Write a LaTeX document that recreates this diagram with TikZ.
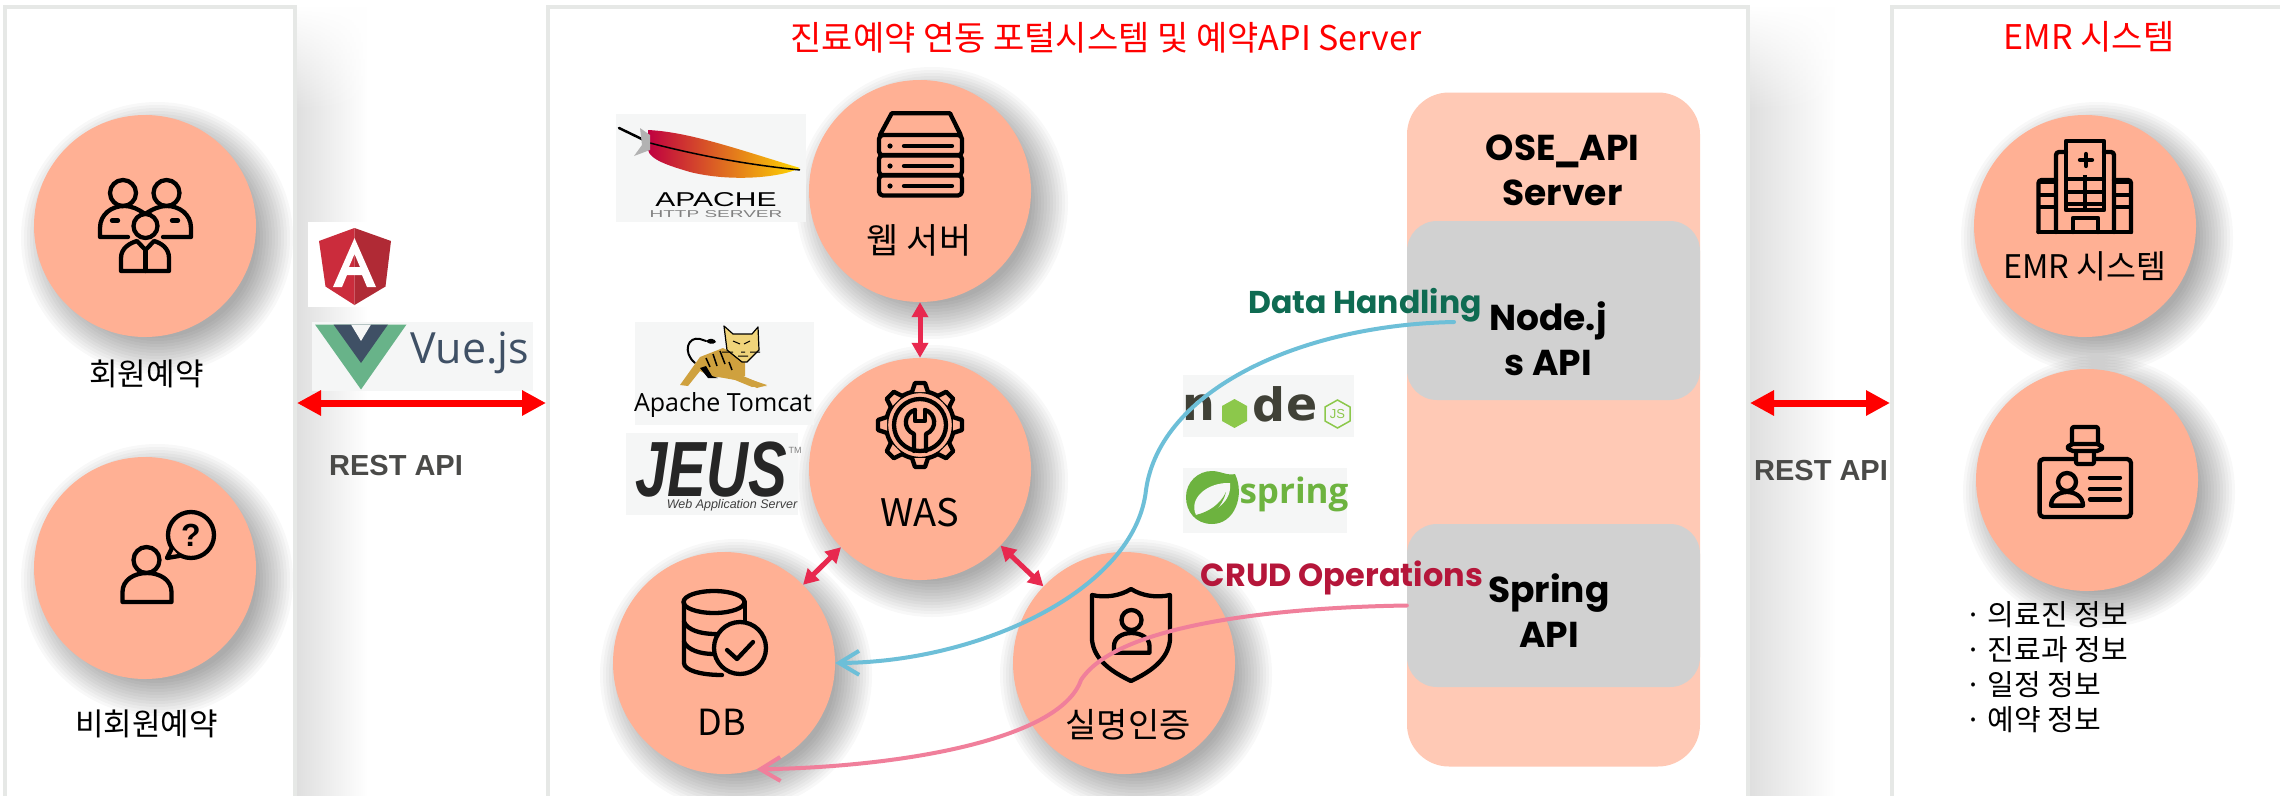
\documentclass[tikz,border=0pt]{standalone}
\usepackage{fontspec}
\usepackage{graphicx}
\usetikzlibrary{arrows.meta,fadings}
\setmainfont{Noto Sans CJK KR}
\newfontfamily\popfont{Poppins}
\newfontfamily\arialfont{Liberation Sans}
\newfontfamily\dejafont{DejaVu Sans}
\newfontfamily\openfont{Open Sans}
\newcommand{\fsz}[2]{\fontsize{#1}{#2}\selectfont}
\definecolor{bubc}{HTML}{FFB094}
\definecolor{osec}{HTML}{FFC9B5}
\definecolor{apic}{HTML}{D1D1D1}
\definecolor{edgec}{HTML}{E6E8E6}
\definecolor{shadc}{HTML}{DFDFDF}
\definecolor{logoc}{HTML}{F5F6F6}
\definecolor{linkc}{HTML}{E8294F}
\definecolor{bluec}{HTML}{6DBFD8}
\definecolor{pinkc}{HTML}{F07F9B}
\definecolor{datac}{HTML}{0F6B52}
\definecolor{crudc}{HTML}{B5163A}
\definecolor{restc}{HTML}{4A4A48}
\definecolor{vuegr}{HTML}{68B389}
\definecolor{vuedk}{HTML}{3F5065}
\definecolor{nodec}{HTML}{404137}
\definecolor{nodeg}{HTML}{8CC84B}
\definecolor{sprg}{HTML}{6DB33F}
\definecolor{angl}{HTML}{CB2C3C}
\definecolor{angr}{HTML}{B02A35}
\definecolor{catb}{HTML}{CFA13E}
\definecolor{cath}{HTML}{F0D47A}
\definecolor{featm}{HTML}{C8245C}
\tikzset{
 panelbox/.style={rectangle, draw=edgec, fill=white, line width=4, inner sep=0, minimum height=792},
 bub/.style={circle, fill=bubc, inner sep=0, minimum size=222},
 lab/.style={font=\fsz{31}{37}, inner sep=0},
 title/.style={font=\fsz{34}{40}, text=red, inner sep=0},
 rest/.style={{Triangle[length=24pt,width=24pt]}-{Triangle[length=24pt,width=24pt]}, draw=red, line width=7},
 restlab/.style={font=\arialfont\bfseries\fsz{29}{34}, text=restc, inner sep=0},
 dbl/.style={{Triangle[length=15pt,width=16pt]}-{Triangle[length=15pt,width=16pt]}, draw=linkc, line width=5},
 curv/.style={-{Straight Barb[length=20pt,width=24pt]}, line width=4, line cap=round},
 apibox/.style={rectangle, fill=apic, rounded corners=30, inner sep=0, minimum width=293},
 apilab/.style={font=\popfont\bfseries\fsz{36}{45}, align=center, inner sep=0},
 ic/.style={draw=black, line width=4.3, line join=round, line cap=round},
 logobg/.style={fill=logoc},
 nodetx/.style={font=\dejafont\bfseries\fsz{46}{48}, text=nodec, inner sep=0}
}
\begin{document}
\begin{tikzpicture}[x=1pt,y=-1pt]
 \useasboundingbox (0,0) rectangle (2280,795);
 \node[panelbox, minimum width=290] (lpanel) at (150,403) {};
 \node[panelbox, minimum width=1200] (mpanel) at (1148,403) {};
 \node[panelbox, minimum width=398] (rpanel) at (2091,403) {};

 \shade[left color=shadc, right color=white] (297,7) rectangle (368,795);
 \shade[left color=shadc, right color=white] (1750,7) rectangle (1836,795);
 \fill[white, path fading=south] (297,7) rectangle (400,110);
 \fill[white, path fading=south] (1750,7) rectangle (1860,110);

 \foreach \cx/\cy in {145/226,145/568,920/191,920/469,724/663,1124/663,2085/226,2087/480}
  \foreach \hr in {100,103,...,136}
   \fill[black, opacity=.027] (\cx+12,\cy+12) circle (\hr);

 \node[bub] (memb) at (145,226) {};
 \node[bub] (guest) at (145,568) {};
 \node[bub] (web) at (920,191) {};
 \node[bub] (was) at (920,469) {};
 \node[bub] (db) at (724,663) {};
 \node[bub] (auth) at (1124,663) {};
 \node[bub] (emr) at (2085,226) {};
 \node[bub] (doc) at (2087,480) {};

 \fill[white] (308,222) rectangle (382,307);
 \fill[angl] (354.5,228) -- (319,241) -- (325.5,286.5) -- (354.5,305) -- cycle;
 \fill[angr] (354.5,228) -- (391,241) -- (385.5,286.5) -- (354.5,305) -- cycle;
 \fill[white, even odd rule] (354.5,238) -- (333,287) -- (342,287) -- (347,275) -- (362,275) -- (367,287) -- (376,287) -- cycle (354.5,254) -- (349,267) -- (360,267) -- cycle;

 \fill[logobg] (312,322) rectangle (533,390.5);
 \fill[vuegr] (315,324.5) -- (406.5,324.5) -- (361,389.5) -- cycle;
 \fill[vuedk] (333.5,324.5) -- (388,324.5) -- (361,363) -- cycle;
 \fill[logoc] (351,324.5) -- (371,324.5) -- (361,341) -- cycle;
 \node[font=\openfont\fsz{43}{50}, text=vuedk, inner sep=0] (vuelab) at (470,353) {Vue.js};

 \fill[logobg] (616,114) rectangle (806,222);
 \draw[line width=2.5, line cap=round] (619,128) -- (650,143);
 \shade[left color=purple, middle color=featm, right color=yellow!70!orange] (648,130) .. controls (690,132) and (740,150) .. (800,168) .. controls (780,178) and (730,182) .. (690,172) .. controls (670,166) and (650,160) .. (648,150) -- cycle;
 \draw[line width=1.5] (650,143) .. controls (700,156) and (750,165) .. (800,170);
 \fill[gray!60] (640,128) -- (650,135) -- (650,150) -- (634,156) -- (642,145) -- cycle;
 \node[font=\arialfont\fsz{20}{24}, inner sep=0] (apache) at (716,200) {\scalebox{1.5}[1]{APACHE}};
 \node[font=\arialfont\fsz{10}{12}, text=gray, inner sep=0] (httpd) at (716,214) {\scalebox{1.9}[1]{HTTP SERVER}};

 \fill[logobg] (635,322) rectangle (814,425);
 \draw[line width=2, line cap=round] (695,363) .. controls (682,352) and (688,336) .. (700,339) -- (706,341);
 \fill (706,341) .. controls (710,337) and (715,339) .. (716,342) .. controls (713,345) and (708,344) .. (706,341) -- cycle;
 \fill[catb] (723,348) -- (700,357) -- (680,385) -- (688,386) -- (700,371) -- (713,377) -- (743,377) -- (767,385) -- (757,388) -- (735,379) -- (745,376) -- (745,360) -- cycle;
 \fill[catb] (713,376) -- (743,376) -- (767,386) -- (752,387) -- (735,380) -- cycle;
 \fill (700,368) -- (706,366) -- (712,376) -- (718,378) -- (708,378) -- cycle;
 \draw[line width=1.5] (706,358) -- (710,367) (713,354) -- (717,366) (720,351) -- (725,364) (729,362) -- (732,370);
 \fill[cath, draw=black, line width=1.2, line join=round] (724,326) -- (733,334) -- (752,334) -- (758,327) -- (759,350) -- (747,362) -- (742,362) -- (727,350) -- cycle;
 \draw[line width=1] (733,341) -- (740,344) (750,341) -- (744,344) (741,352) -- (745,352) (738,356) -- (748,356) (722,352) -- (733,352) (750,352) -- (760,352);
 \node[font=\openfont\fsz{25}{30}, inner sep=0] (tomcat) at (723,405) {Apache Tomcat};

 \fill[logobg] (626,433) rectangle (798,515);
 \node[font=\arialfont\bfseries\itshape\fsz{58}{60}, text=black!85, inner sep=0] (jeus) at (711,470) {\scalebox{1}[1.35]{JEUS}};
 \node[font=\arialfont\fsz{9}{10}, text=gray, inner sep=0] (tm) at (795,450) {TM};
 \node[font=\arialfont\itshape\fsz{12.5}{14}, text=black!75, inner sep=0] (jeussub) at (732,505) {Web Application Server};

 \fill[logobg] (1183,375) rectangle (1354,437);
 \node[nodetx] (noden) at (1199,408) {n};
 \fill[nodeg] (1234.5,399) -- (1247,406) -- (1247,421) -- (1234.5,428) -- (1222,421) -- (1222,406) -- cycle;
 \node[nodetx] (noded) at (1268.5,404) {d};
 \node[nodetx] (nodee) at (1302,408) {e};
 \draw[nodeg, line width=1.5] (1337.5,400) -- (1350,407) -- (1350,421) -- (1337.5,428) -- (1325,421) -- (1325,407) -- cycle;
 \node[font=\arialfont\fsz{13}{14}, text=nodeg, inner sep=0] (nodejs) at (1337.5,414) {JS};

 \fill[logobg] (1183,467.5) rectangle (1347,533);
 \fill[sprg] (1235,474) .. controls (1245,495) and (1235,524) .. (1212,524) .. controls (1196,524) and (1186,512) .. (1186,497) .. controls (1186,482) and (1198,471) .. (1212,471) .. controls (1220,471) and (1228,476) .. (1235,474) -- cycle;
 \fill[logoc] (1230,483) .. controls (1232,502) and (1215,513) .. (1196,515) .. controls (1188,498) and (1208,482) .. (1230,483) -- cycle;
 \fill[sprg] (1196,515) .. controls (1208,512) and (1220,505) .. (1226,492) .. controls (1222,508) and (1212,516) .. (1196,515) -- cycle;
 \node[font=\openfont\bfseries\fsz{35}{42}, text=sprg, inner sep=0] (spring) at (1294,494) {spring};

 \node[rectangle, fill=osec, rounded corners=42, inner sep=0, minimum width=293, minimum height=674] (ose) at (1553.5,429.5) {};
 \node[apibox, minimum height=179] (njs) at (1553.5,310.5) {};
 \node[apibox, minimum height=163] (spr) at (1553.5,605.5) {};
 \node[apilab] (oselab) at (1562.5,170) {OSE\hspace{-2pt}\_\hspace{-2pt}API\\Server};
 \node[apilab] (njslab) at (1548,339) {Node.j\\s API};
 \node[apilab] (sprlab) at (1549,611) {Spring\\API};

 \draw[ic] (123,193) circle (13);
 \draw[ic] (166.5,193) circle (13);
 \draw[ic] (128,237) -- (100,237) -- (100,228) .. controls (100,214) and (112,206) .. (124,206) .. controls (132,206) and (138,209) .. (145,214);
 \draw[ic] (163,237) -- (191,237) -- (191,228) .. controls (191,214) and (179,206) .. (167,206) .. controls (159,206) and (153,209) .. (145,214);
 \draw[ic] (112,220.6) -- (118,220.6) (172,220.6) -- (178,220.6);
 \draw[ic, fill=bubc] (121,271) -- (121,258) .. controls (121,248) and (130,243) .. (137,241) -- (145.5,250) -- (154,241) .. controls (161,243) and (169,248) .. (169,258) -- (169,271) -- cycle;
 \draw[ic] (145.5,250) -- (145.5,271);
 \draw[ic, fill=bubc] (145.5,226) circle (12);

 \draw[ic] (146.5,560) circle (13);
 \draw[ic] (122.5,602) -- (122.5,592) .. controls (122.5,580) and (134,573) .. (147,573) .. controls (160,573) and (171.5,580) .. (171.5,592) -- (171.5,602) -- cycle;
 \draw[ic] (191,535) circle (23);
 \draw[ic, fill=bubc] (172,548) -- (167,558) -- (179,556);
 \node[font=\arialfont\bfseries\fsz{32}{36}, inner sep=0] (qmark) at (191,535) {?};

 \draw[ic] (880,135) -- (891.7,113.3) -- (950,113.3) -- (960.7,135);
 \foreach \ry in {135,155,175} {
  \draw[ic, rounded corners=4] (879,\ry) rectangle (962,\ry+20.5);
  \fill (890,\ry+11) circle (2.6);
  \draw[ic] (904,\ry+11) -- (952,\ry+11);
 }

 \draw[ic] (920,425) circle (34);
 \foreach \a in {0,45,...,315}
  \draw[ic, fill=bubc, rotate around={\a:(920,425)}] (912,392) -- (915,383) -- (925,383) -- (928,392);
 \draw[ic] (920,425) circle (26);
 \draw[ic] (915,410) .. controls (904,413) and (902,429) .. (914,434) -- (914,451);
 \draw[ic] (925,410) .. controls (936,413) and (938,429) .. (926,434) -- (926,451);
 \draw[ic] (915,410) -- (915,421) -- (925,421) -- (925,410);

 \draw[ic] (714,602) ellipse (30.5 and 11);
 \draw[ic] (684,602) -- (684,663) .. controls (684,670) and (700,675) .. (722,675);
 \draw[ic] (745,602) -- (745,624);
 \draw[ic] (684,622) .. controls (688,630) and (700,634) .. (716,634);
 \draw[ic] (684,642) .. controls (688,650) and (700,654) .. (714,654);
 \draw[ic, fill=bubc] (740,648) circle (26);
 \draw[ic] (727,650) -- (737,659) -- (753,642);

 \draw[ic] (1131,589) .. controls (1120,596) and (1105,598) .. (1092,595) -- (1092,640) .. controls (1094,660) and (1112,672) .. (1131,681) .. controls (1150,672) and (1168,660) .. (1170,640) -- (1170,595) .. controls (1157,598) and (1142,596) .. (1131,589) -- cycle;
 \draw[ic] (1131.5,620) circle (10);
 \draw[ic] (1114,652.7) -- (1114,646) .. controls (1114,638) and (1122,633) .. (1131.5,633) .. controls (1141,633) and (1149.5,638) .. (1149.5,646) -- (1149.5,652.7) -- cycle;

 \draw[ic, rounded corners=3] (2038.5,232) -- (2038.5,180) -- (2056,180);
 \draw[ic, rounded corners=3] (2131,232) -- (2131,180) -- (2114,180);
 \draw[ic, rounded corners=3] (2056,232) -- (2056,152) -- (2066,152) (2104,152) -- (2114,152) -- (2114,232);
 \draw[ic] (2038.5,232) -- (2131,232);
 \draw[ic] (2066,141) rectangle (2104,210);
 \draw[ic] (2080,160) -- (2092,160) (2086,154) -- (2086,166);
 \foreach \wy in {179,192,204} {
  \draw[line width=3.2] (2066,\wy) -- (2104,\wy) (2038.5,\wy+3) -- (2056,\wy+3) (2114,\wy+3) -- (2131,\wy+3);
 }
 \draw[line width=3.2] (2085,175) -- (2085,210);
 \draw[ic] (2073,232) -- (2073,218) -- (2098,218) -- (2098,232);

 \draw[ic, rounded corners=4] (2039.6,459) rectangle (2131,517);
 \draw[ic, fill=bubc, rounded corners=2] (2072,444) -- (2072,427) -- (2098,427) -- (2098,444) (2076,450) -- (2076,464) -- (2094,464) -- (2094,450);
 \draw[ic, fill=bubc, rounded corners=5] (2068,444) rectangle (2102,451);
 \draw[ic] (2067,482) circle (9);
 \draw[ic] (2051,505.6) .. controls (2051,496) and (2060,492) .. (2067,492) .. controls (2074,492) and (2083,496) .. (2083,505.6) -- cycle;
 \draw[ic] (2090,477.7) -- (2120,477.7) (2090,489) -- (2120,489) (2090,499.5) -- (2120,499.5);

 \coordinate (datafrom) at (1454,322);
 \draw[curv, bluec] (datafrom) .. controls (1300,325) and (1160,390) .. (1146,490) .. controls (1135,590) and (980,662) .. (db.east);
 \draw[curv, pinkc] (spr.west) .. controls (1300,607) and (1120,620) .. (1081,680) .. controls (1060,740) and (900,767) .. (db.-73);

 \draw[rest] (lpanel.east) -- (mpanel.west);
 \draw[rest] (mpanel.east) -- (rpanel.west);
 \draw[dbl] (web) -- (was);
 \draw[dbl] (was) -- (db);
 \draw[dbl] (was) -- (auth);

 \node[lab] (memblab) at (146.5,374) {회원예약};
 \node[lab] (guestlab) at (146.5,724) {비회원예약};
 \node[lab, font=\fsz{35}{40}] (weblab) at (919,240) {웹 서버};
 \node[lab, font=\fsz{38}{44}] (waslab) at (920,513) {WAS};
 \node[lab, font=\fsz{36}{42}] (dblab) at (722,722) {DB};
 \node[lab, font=\fsz{34}{40}] (authlab) at (1128,725) {실명인증};
 \node[lab, font=\fsz{32.5}{38}] (emrlab) at (2085,266) {EMR 시스템};
 \node[title] (mtitle) at (1106,38) {진료예약 연동 포털시스템 및 예약API Server};
 \node[title] (rtitle) at (2089,37) {EMR 시스템};
 \node[restlab] (lrest) at (396,465.5) {REST API};
 \node[restlab] (rrest) at (1821,470.5) {REST API};
 \node[font=\popfont\bfseries\fsz{31.5}{36}, text=datac, inner sep=0] (datalab) at (1365,305) {Data Handling};
 \node[font=\popfont\bfseries\fsz{32}{36}, text=crudc, inner sep=0] (crudlab) at (1342,578) {CRUD Operations};
 \node[font=\fsz{29}{35}, align=left, anchor=west, inner sep=0] (emrlist) at (1965,667) {· 의료진 정보\\· 진료과 정보\\· 일정 정보\\· 예약 정보};
\end{tikzpicture}
\end{document}
